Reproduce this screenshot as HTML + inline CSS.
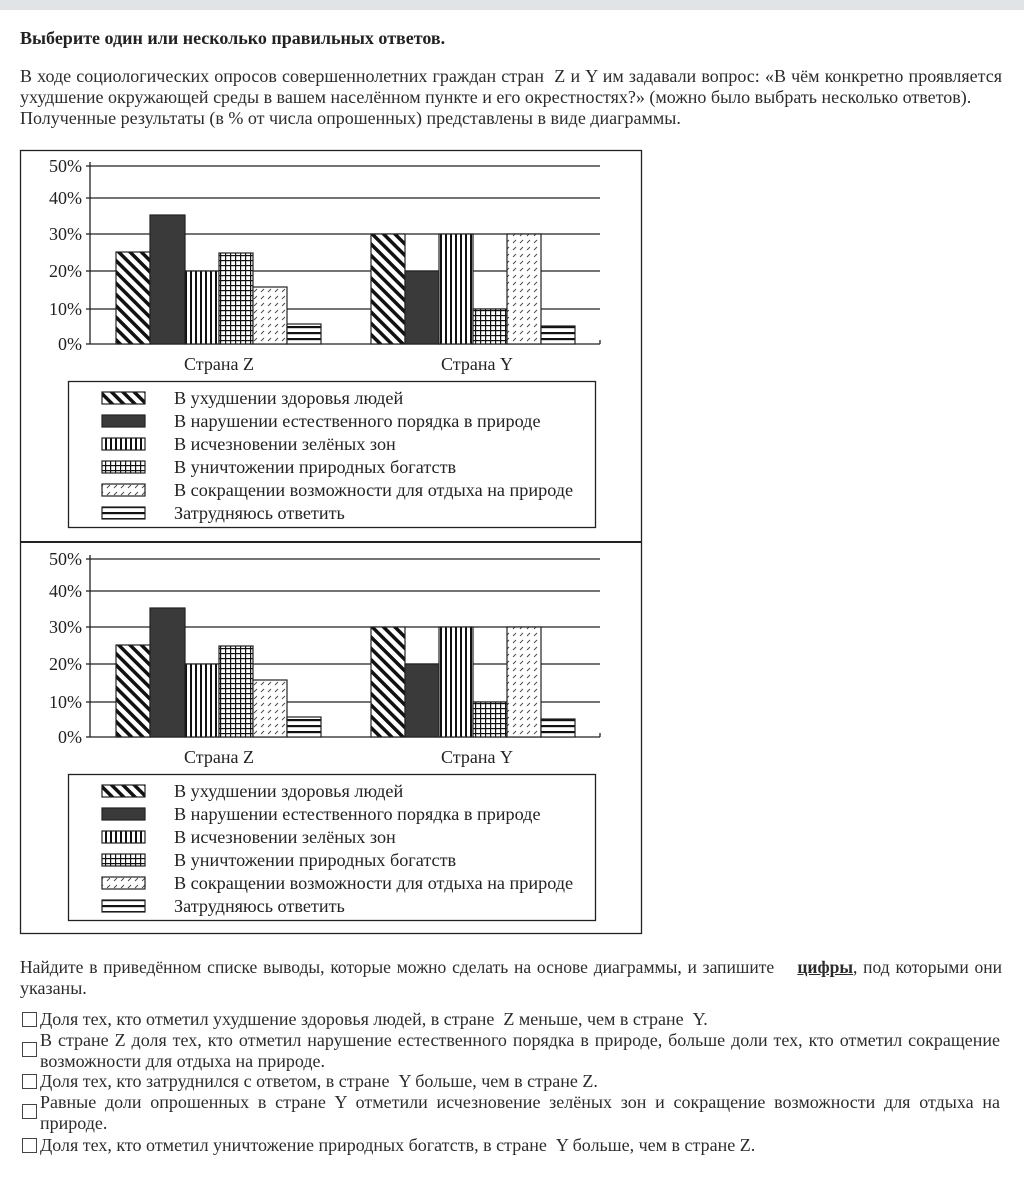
<!DOCTYPE html>
<html><head><meta charset="utf-8">
<style>
html,body{margin:0;padding:0;background:#fff;width:1024px;height:1200px;overflow:hidden}
body{position:relative;font-family:"Liberation Serif","DejaVu Serif",serif;color:#2b2b2b;font-size:18px}
.l{position:absolute;line-height:20px;white-space:nowrap}
.j{text-align:justify;text-align-last:justify;white-space:normal;height:21px;overflow:hidden}
.cb{position:absolute;left:22px;width:15px;height:15px;border:1px solid #444;box-sizing:border-box;background:#fff}
</style></head><body>
<div style="position:absolute;left:0;top:0;width:1024px;height:10px;background:#e1e4e6"></div>
<div class="l" style="left:20px;top:28px;font-weight:bold;color:#222">Выберите один или несколько правильных ответов.</div>
<div class="l j" style="left:20px;top:66px;width:982px">В ходе социологических опросов совершеннолетних граждан стран &nbsp;Z и Y им задавали вопрос: «В чём конкретно проявляется</div>
<div class="l" style="left:20px;top:87px">ухудшение окружающей среды в вашем населённом пункте и его окрестностях?» (можно было выбрать несколько ответов).</div>
<div class="l" style="left:20px;top:108px">Полученные результаты (в % от числа опрошенных) представлены в виде диаграммы.</div>

<svg style="position:absolute;left:0;top:0" width="1024" height="940" xmlns="http://www.w3.org/2000/svg">
<defs>
<pattern id="pd" width="8" height="8" patternUnits="userSpaceOnUse" patternTransform="rotate(-45)"><rect width="8" height="8" fill="#fff"/><rect width="3.5" height="8" fill="#111"/></pattern>
<pattern id="pv" width="5" height="5" patternUnits="userSpaceOnUse"><rect width="5" height="5" fill="#fff"/><rect width="2" height="5" fill="#111"/></pattern>
<pattern id="pg" width="5" height="5" patternUnits="userSpaceOnUse"><rect width="5" height="5" fill="#fff"/><rect width="1.2" height="5" fill="#111"/><rect width="5" height="1.2" fill="#111"/></pattern>
<pattern id="pt" width="7" height="7" patternUnits="userSpaceOnUse"><rect width="7" height="7" fill="#fff"/><line x1="2" y1="5" x2="5" y2="2" stroke="#444" stroke-width="0.9"/></pattern>
<pattern id="ph" width="6" height="6" patternUnits="userSpaceOnUse"><rect width="6" height="6" fill="#fff"/><rect width="6" height="2.2" y="2" fill="#111"/></pattern>
<g id="chart">
<g stroke="#222" stroke-width="1.3">
<line x1="90" y1="166" x2="600" y2="166"/><line x1="90" y1="198" x2="600" y2="198"/>
<line x1="90" y1="234" x2="600" y2="234"/><line x1="90" y1="271" x2="600" y2="271"/>
<line x1="90" y1="309" x2="600" y2="309"/><line x1="90" y1="344" x2="600" y2="344"/>
<line x1="90" y1="162" x2="90" y2="344"/><line x1="600" y1="340" x2="600" y2="344"/>
<line x1="86" y1="166" x2="90" y2="166"/><line x1="86" y1="198" x2="90" y2="198"/><line x1="86" y1="234" x2="90" y2="234"/><line x1="86" y1="271" x2="90" y2="271"/><line x1="86" y1="309" x2="90" y2="309"/><line x1="86" y1="344" x2="90" y2="344"/>
</g>
<g font-family="Liberation Serif, serif" font-size="18" fill="#222" text-anchor="end">
<text x="82" y="172">50%</text><text x="82" y="204">40%</text><text x="82" y="240">30%</text><text x="82" y="277">20%</text><text x="82" y="315">10%</text><text x="82" y="350">0%</text>
</g>
<g stroke="#222" stroke-width="1.2">
<rect x="116" y="252" width="34" height="92" fill="url(#pd)"/>
<rect x="150" y="215" width="35" height="129" fill="#3a3a3a"/>
<rect x="185" y="271" width="34" height="73" fill="url(#pv)"/>
<rect x="219" y="253" width="34" height="91" fill="url(#pg)"/>
<rect x="253" y="287" width="34" height="57" fill="url(#pt)"/>
<rect x="287" y="324" width="34" height="20" fill="url(#ph)"/>
<rect x="371" y="234" width="34" height="110" fill="url(#pd)"/>
<rect x="405" y="271" width="34" height="73" fill="#3a3a3a"/>
<rect x="439" y="234" width="34" height="110" fill="url(#pv)"/>
<rect x="473" y="309" width="34" height="35" fill="url(#pg)"/>
<rect x="507" y="234" width="34" height="110" fill="url(#pt)"/>
<rect x="541" y="326" width="34" height="18" fill="url(#ph)"/>
</g>
<g font-family="Liberation Serif, serif" font-size="18" fill="#222">
<text x="184" y="370">Страна Z</text><text x="441" y="370">Страна Y</text>
</g>
<rect x="68.5" y="381.5" width="527" height="146" fill="none" stroke="#222" stroke-width="1.3"/>
<g stroke="#222" stroke-width="1.2">
<rect x="102" y="392" width="43" height="12" fill="url(#pd)"/>
<rect x="102" y="415" width="43" height="12" fill="#3a3a3a"/>
<rect x="102" y="438" width="43" height="12" fill="url(#pv)"/>
<rect x="102" y="461" width="43" height="12" fill="url(#pg)"/>
<rect x="102" y="484" width="43" height="12" fill="url(#pt)"/>
<rect x="102" y="507" width="43" height="12" fill="url(#ph)"/>
</g>
<g font-family="Liberation Serif, serif" font-size="18.2" fill="#222">
<text x="174" y="404">В ухудшении здоровья людей</text>
<text x="174" y="427">В нарушении естественного порядка в природе</text>
<text x="174" y="450">В исчезновении зелёных зон</text>
<text x="174" y="473">В уничтожении природных богатств</text>
<text x="174" y="496">В сокращении возможности для отдыха на природе</text>
<text x="174" y="519">Затрудняюсь ответить</text>
</g>
</g>
</defs>
<rect x="20.5" y="150.5" width="621" height="783" fill="#fff" stroke="#222" stroke-width="1.3"/>
<line x1="20" y1="542" x2="642" y2="542" stroke="#222" stroke-width="2"/>
<use href="#chart"/>
<use href="#chart" transform="translate(0,393)"/>
</svg>

<div class="l j" style="left:20px;top:957px;width:982px;font-size:17.5px">Найдите в приведённом списке выводы, которые можно сделать на основе диаграммы, и запишите &nbsp;&nbsp; <b style="text-decoration:underline">цифры</b>, под которыми они</div>
<div class="l" style="left:20px;top:978px">указаны.</div>

<div class="cb" style="top:1012px"></div>
<div class="l" style="left:40px;top:1009px">Доля тех, кто отметил ухудшение здоровья людей, в стране &nbsp;Z меньше, чем в стране &nbsp;Y.</div>
<div class="cb" style="top:1042px"></div>
<div class="l j" style="left:40px;top:1030px;width:960px">В стране Z доля тех, кто отметил нарушение естественного порядка в природе, больше доли тех, кто отметил сокращение</div>
<div class="l" style="left:40px;top:1051px">возможности для отдыха на природе.</div>
<div class="cb" style="top:1074px"></div>
<div class="l" style="left:40px;top:1071px">Доля тех, кто затруднился с ответом, в стране &nbsp;Y больше, чем в стране Z.</div>
<div class="cb" style="top:1104px"></div>
<div class="l j" style="left:40px;top:1092px;width:960px">Равные доли опрошенных в стране Y отметили исчезновение зелёных зон и сокращение возможности для отдыха на</div>
<div class="l" style="left:40px;top:1113px">природе.</div>
<div class="cb" style="top:1138px"></div>
<div class="l" style="left:40px;top:1135px">Доля тех, кто отметил уничтожение природных богатств, в стране &nbsp;Y больше, чем в стране Z.</div>
</body></html>
